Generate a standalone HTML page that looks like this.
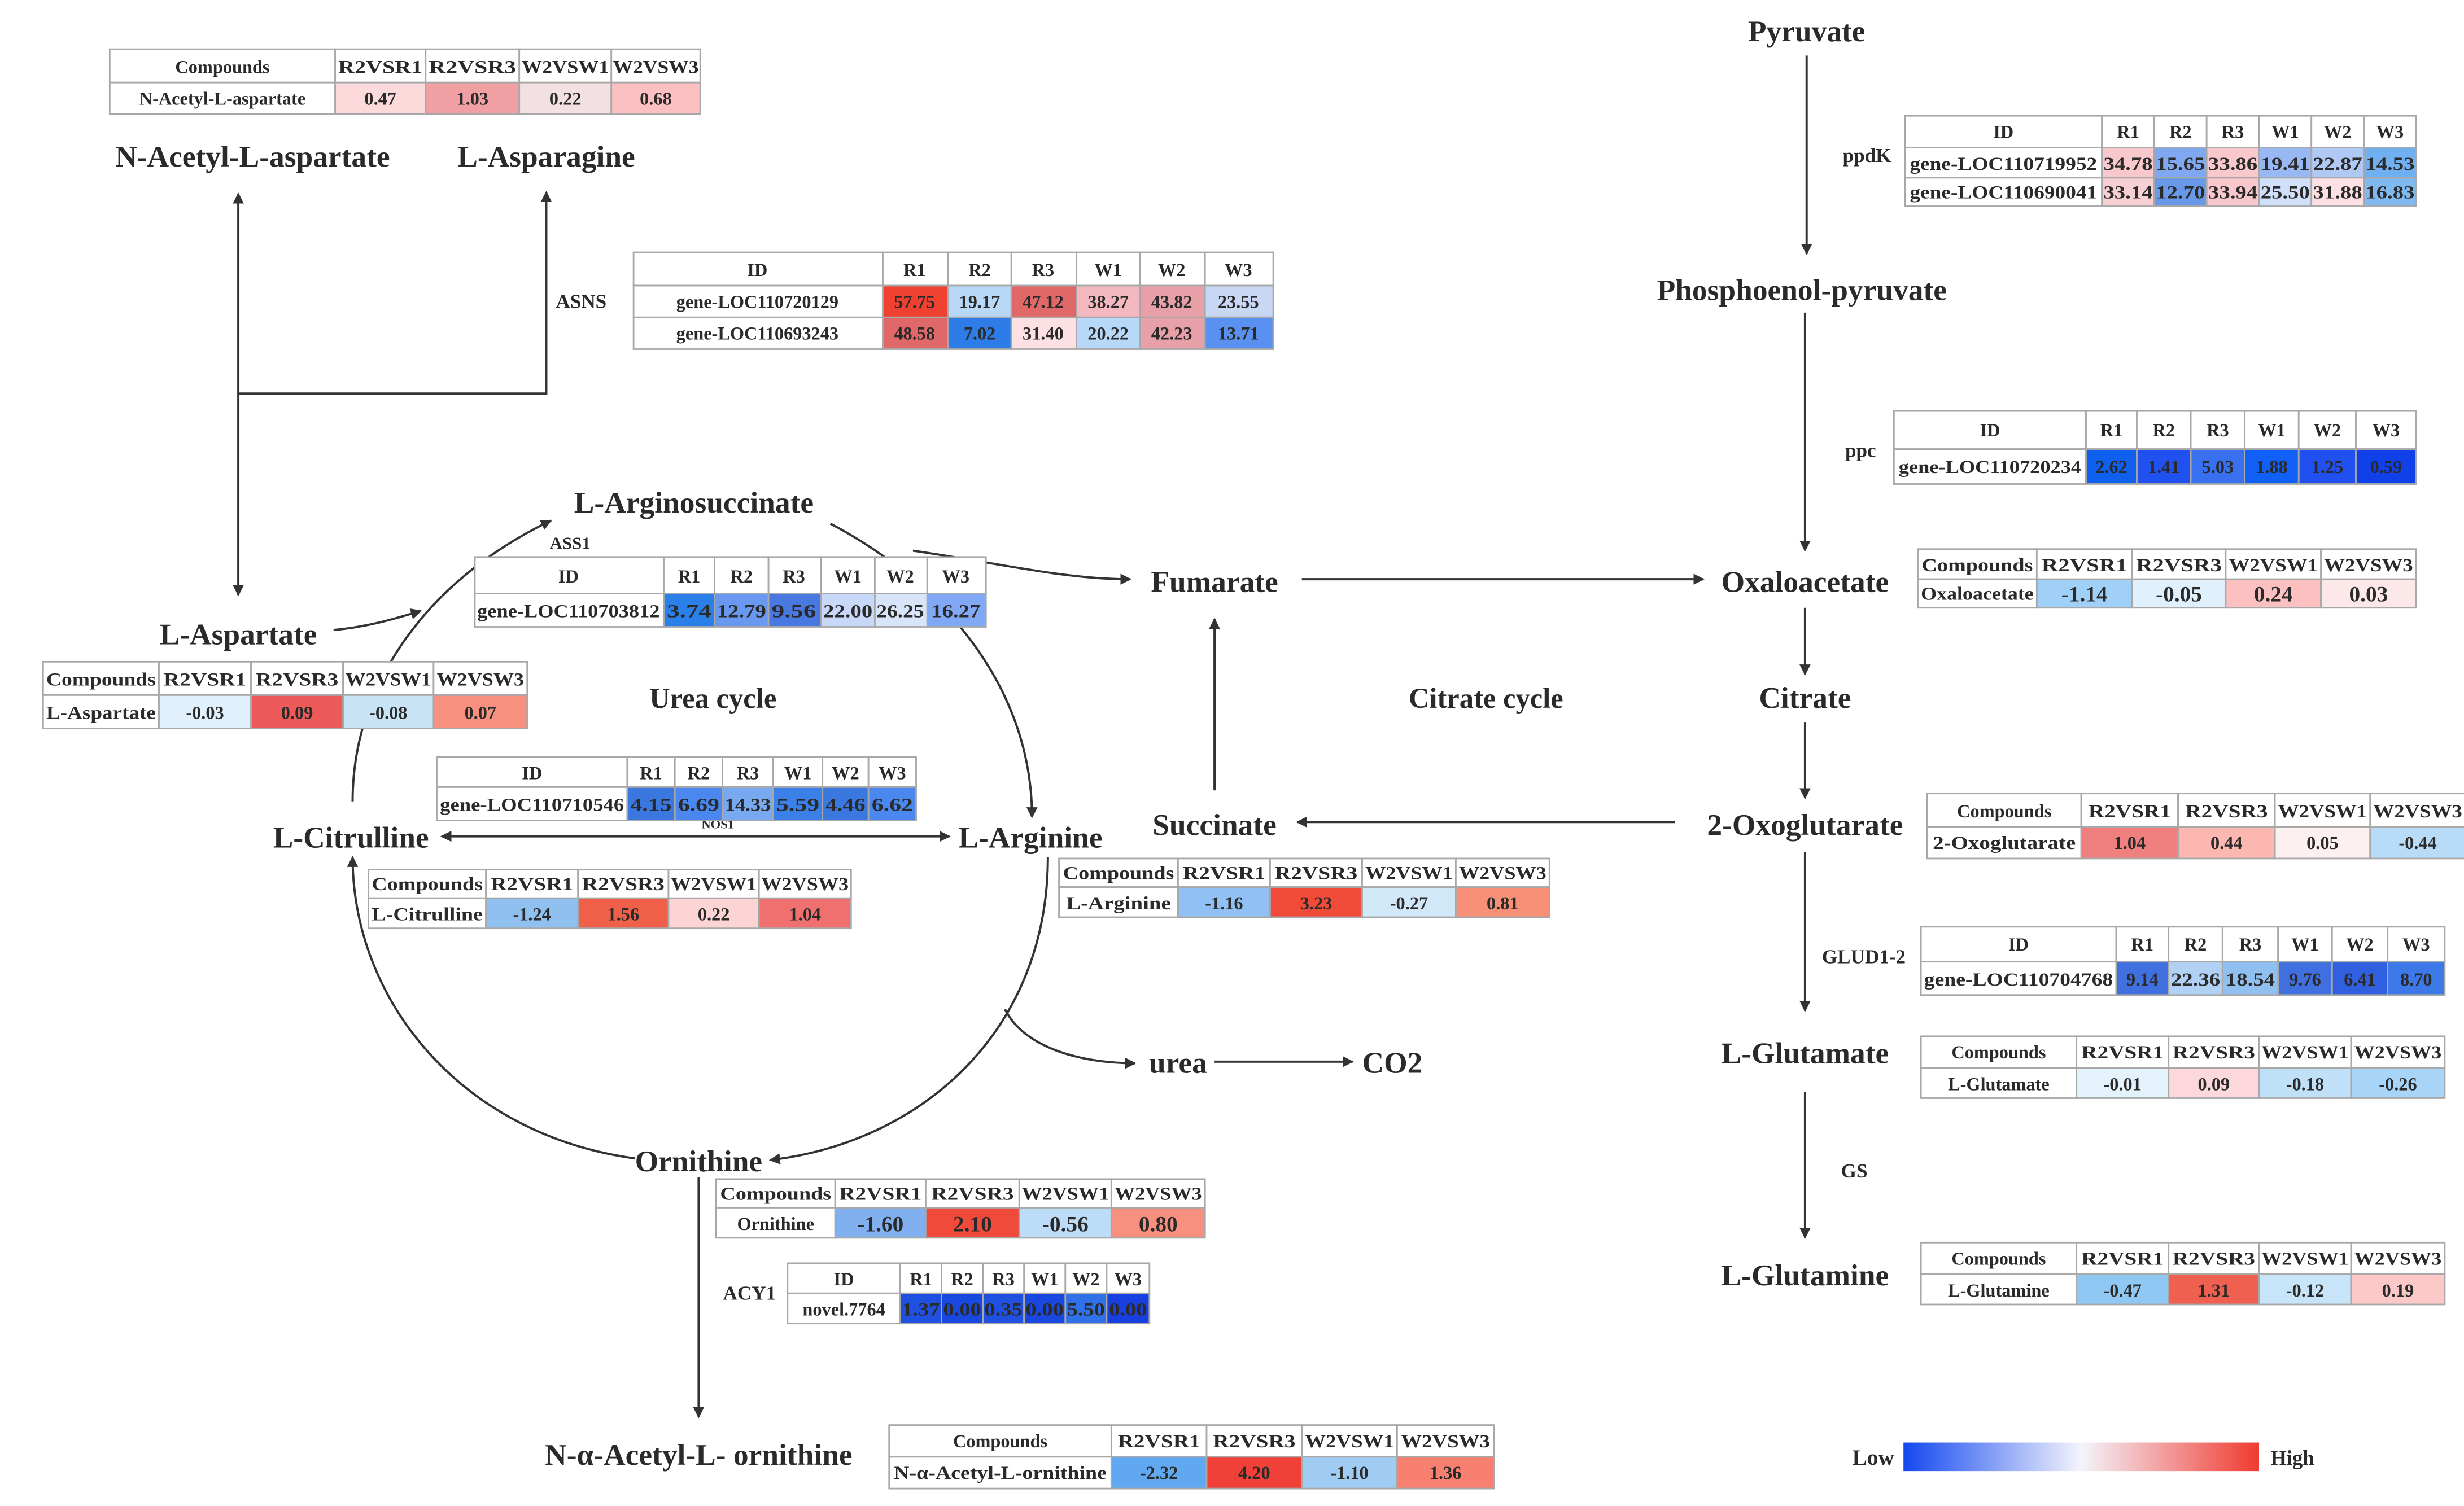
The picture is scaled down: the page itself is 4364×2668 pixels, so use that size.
<!DOCTYPE html>
<html><head><meta charset="utf-8"><style>
html,body{margin:0;padding:0;background:#fff}
svg{display:block}
text{font-family:"Liberation Serif",serif;fill:#2a2a2a}
.L{font-size:19px;font-weight:bold;text-anchor:middle}
.E{font-size:12.5px;font-weight:bold;text-anchor:middle}
.t{font-size:11.5px;font-weight:bold;text-anchor:middle}
.c{stroke:#a8a8a8;stroke-width:1}
.a{stroke:#333;stroke-width:1.4;fill:none}
</style></head><body>
<svg width="4364" height="2668" viewBox="0 0 1552 949" xmlns="http://www.w3.org/2000/svg">
<defs>
<marker id="m" viewBox="0 0 10 10" refX="9" refY="5" markerWidth="7" markerHeight="7" orient="auto-start-reverse" markerUnits="userSpaceOnUse"><path d="M0,0L10,5L0,10z" fill="#333"/></marker>
<linearGradient id="g" x1="0" x2="1"><stop offset="0" stop-color="#1448f0"/><stop offset="0.5" stop-color="#f4f4fc"/><stop offset="1" stop-color="#f03a30"/></linearGradient>
</defs>
<rect width="1552" height="949" fill="#fff"/>

<!-- arrows -->
<g class="a" marker-end="url(#m)">
<path d="M1138,35V160"/><path d="M1137,197V347"/><path d="M1137,383V425"/><path d="M1137,455V503"/><path d="M1137,537V637"/><path d="M1137,688V780"/>
<path d="M820,365H1073"/><path d="M765,498V390"/><path d="M1055,518H817"/><path d="M765,669H852"/><path d="M440,742V893"/>
<path d="M150,375V122" marker-start="url(#m)"/><path d="M150,248H344V121"/>
<path d="M210,397C232,395 248,390 265,385"/>
<path d="M222,505C222,430 270,365 347,328"/>
<path d="M523,330C590,365 650,430 650,515"/>
<path d="M575,347C630,355 670,365 712,365"/>
<path d="M278,527H598" marker-start="url(#m)"/>
<path d="M660,540C660,650 580,720 485,731"/>
<path d="M400,730C290,715 222,630 222,540"/>
<path d="M633,636C645,660 680,670 715,670"/>
</g>

<!-- labels -->
<text class="L" x="159" y="105">N-Acetyl-L-aspartate</text>
<text class="L" x="344" y="105">L-Asparagine</text>
<text class="L" x="437" y="323">L-Arginosuccinate</text>
<text class="L" x="150" y="406">L-Aspartate</text>
<text class="L" x="449" y="446" style="font-size:18px">Urea cycle</text>
<text class="L" x="765" y="373">Fumarate</text>
<text class="L" x="1137" y="373">Oxaloacetate</text>
<text class="L" x="1137" y="446">Citrate</text>
<text class="L" x="936" y="446" style="font-size:18px">Citrate cycle</text>
<text class="L" x="1137" y="526">2-Oxoglutarate</text>
<text class="L" x="765" y="526">Succinate</text>
<text class="L" x="221" y="534">L-Citrulline</text>
<text class="L" x="649" y="534">L-Arginine</text>
<text class="L" x="742" y="676">urea</text>
<text class="L" x="877" y="676">CO2</text>
<text class="L" x="440" y="738">Ornithine</text>
<text class="L" x="440" y="923">N-α-Acetyl-L- ornithine</text>
<text class="L" x="1137" y="670">L-Glutamate</text>
<text class="L" x="1137" y="810">L-Glutamine</text>
<text class="L" x="1138" y="26">Pyruvate</text>
<text class="L" x="1135" y="189">Phosphoenol-pyruvate</text>
<text class="E" x="1176" y="102">ppdK</text>
<text class="E" x="1172" y="288">ppc</text>
<text class="E" x="366" y="194">ASNS</text>
<text class="E" x="359" y="346" style="font-size:11px">ASS1</text>
<text class="E" x="1174" y="607">GLUD1-2</text>
<text class="E" x="1168" y="742">GS</text>
<text class="E" x="472" y="819">ACY1</text>
<text class="E" x="452" y="522" style="font-size:8px">NOS1</text>

<!-- T1 -->
<g>
<rect class="c" x="69" y="31" width="142" height="21" fill="#fff"/><rect class="c" x="211" y="31" width="57" height="21" fill="#fff"/><rect class="c" x="268" y="31" width="59" height="21" fill="#fff"/><rect class="c" x="327" y="31" width="58" height="21" fill="#fff"/><rect class="c" x="385" y="31" width="56" height="21" fill="#fff"/>
<rect class="c" x="69" y="52" width="142" height="20" fill="#fff"/><rect class="c" x="211" y="52" width="57" height="20" fill="#fcd9da"/><rect class="c" x="268" y="52" width="59" height="20" fill="#f0a0a3"/><rect class="c" x="327" y="52" width="58" height="20" fill="#f2e0e2"/><rect class="c" x="385" y="52" width="56" height="20" fill="#fcc0c2"/>
<text class="t" x="140" y="46">Compounds</text><text class="t" x="239.5" y="46" textLength="53" lengthAdjust="spacingAndGlyphs">R2VSR1</text><text class="t" x="297.5" y="46" textLength="55" lengthAdjust="spacingAndGlyphs">R2VSR3</text><text class="t" x="356" y="46" textLength="55" lengthAdjust="spacingAndGlyphs">W2VSW1</text><text class="t" x="413" y="46" textLength="54" lengthAdjust="spacingAndGlyphs">W2VSW3</text>
<text class="t" x="140" y="66">N-Acetyl-L-aspartate</text><text class="t" x="239.5" y="66">0.47</text><text class="t" x="297.5" y="66">1.03</text><text class="t" x="356" y="66">0.22</text><text class="t" x="413" y="66">0.68</text>
</g>

<!-- T2 ASNS -->
<g>
<rect class="c" x="399" y="159" width="157" height="21" fill="#fff"/><rect class="c" x="556" y="159" width="41" height="21" fill="#fff"/><rect class="c" x="597" y="159" width="40" height="21" fill="#fff"/><rect class="c" x="637" y="159" width="41" height="21" fill="#fff"/><rect class="c" x="678" y="159" width="40" height="21" fill="#fff"/><rect class="c" x="718" y="159" width="41" height="21" fill="#fff"/><rect class="c" x="759" y="159" width="43" height="21" fill="#fff"/>
<rect class="c" x="399" y="180" width="157" height="20" fill="#fff"/><rect class="c" x="556" y="180" width="41" height="20" fill="#f04030"/><rect class="c" x="597" y="180" width="40" height="20" fill="#b8d8f8"/><rect class="c" x="637" y="180" width="41" height="20" fill="#e06868"/><rect class="c" x="678" y="180" width="40" height="20" fill="#f4b8c0"/><rect class="c" x="718" y="180" width="41" height="20" fill="#e8a0a8"/><rect class="c" x="759" y="180" width="43" height="20" fill="#c8d8f4"/>
<rect class="c" x="399" y="200" width="157" height="20" fill="#fff"/><rect class="c" x="556" y="200" width="41" height="20" fill="#e06868"/><rect class="c" x="597" y="200" width="40" height="20" fill="#2d7ce8"/><rect class="c" x="637" y="200" width="41" height="20" fill="#fce0e4"/><rect class="c" x="678" y="200" width="40" height="20" fill="#b8d8f8"/><rect class="c" x="718" y="200" width="41" height="20" fill="#e8a0a8"/><rect class="c" x="759" y="200" width="43" height="20" fill="#5a90f0"/>
<text class="t" x="477" y="174">ID</text><text class="t" x="576" y="174">R1</text><text class="t" x="617" y="174">R2</text><text class="t" x="657" y="174">R3</text><text class="t" x="698" y="174">W1</text><text class="t" x="738" y="174">W2</text><text class="t" x="780" y="174">W3</text>
<text class="t" x="477" y="194">gene-LOC110720129</text><text class="t" x="576" y="194">57.75</text><text class="t" x="617" y="194">19.17</text><text class="t" x="657" y="194">47.12</text><text class="t" x="698" y="194">38.27</text><text class="t" x="738" y="194">43.82</text><text class="t" x="780" y="194">23.55</text>
<text class="t" x="477" y="214">gene-LOC110693243</text><text class="t" x="576" y="214">48.58</text><text class="t" x="617" y="214">7.02</text><text class="t" x="657" y="214">31.40</text><text class="t" x="698" y="214">20.22</text><text class="t" x="738" y="214">42.23</text><text class="t" x="780" y="214">13.71</text>
</g>

<!-- T3 ASS1 -->
<g>
<rect class="c" x="299" y="351" width="119" height="23" fill="#fff"/><rect class="c" x="418" y="351" width="32" height="23" fill="#fff"/><rect class="c" x="450" y="351" width="34" height="23" fill="#fff"/><rect class="c" x="484" y="351" width="33" height="23" fill="#fff"/><rect class="c" x="517" y="351" width="34" height="23" fill="#fff"/><rect class="c" x="551" y="351" width="33" height="23" fill="#fff"/><rect class="c" x="584" y="351" width="37" height="23" fill="#fff"/>
<rect class="c" x="299" y="374" width="119" height="21" fill="#fff"/><rect class="c" x="418" y="374" width="32" height="21" fill="#2a80e8"/><rect class="c" x="450" y="374" width="34" height="21" fill="#6898f0"/><rect class="c" x="484" y="374" width="33" height="21" fill="#4878e0"/><rect class="c" x="517" y="374" width="34" height="21" fill="#c8d8f8"/><rect class="c" x="551" y="374" width="33" height="21" fill="#d8e4f8"/><rect class="c" x="584" y="374" width="37" height="21" fill="#80a8f4"/>
<text class="t" x="358" y="367">ID</text><text class="t" x="434" y="367">R1</text><text class="t" x="467" y="367">R2</text><text class="t" x="500" y="367">R3</text><text class="t" x="534" y="367">W1</text><text class="t" x="567" y="367">W2</text><text class="t" x="602" y="367">W3</text>
<text class="t" x="358" y="389" textLength="115" lengthAdjust="spacingAndGlyphs">gene-LOC110703812</text><text class="t" x="434" y="389" textLength="28" lengthAdjust="spacingAndGlyphs">3.74</text><text class="t" x="467" y="389" textLength="31" lengthAdjust="spacingAndGlyphs">12.79</text><text class="t" x="500" y="389" textLength="28" lengthAdjust="spacingAndGlyphs">9.56</text><text class="t" x="534" y="389" textLength="31" lengthAdjust="spacingAndGlyphs">22.00</text><text class="t" x="567" y="389" textLength="30" lengthAdjust="spacingAndGlyphs">26.25</text><text class="t" x="602" y="389" textLength="31" lengthAdjust="spacingAndGlyphs">16.27</text>
</g>

<!-- T4 L-Aspartate -->
<g>
<rect class="c" x="27" y="417" width="73" height="21" fill="#fff"/><rect class="c" x="100" y="417" width="58" height="21" fill="#fff"/><rect class="c" x="158" y="417" width="58" height="21" fill="#fff"/><rect class="c" x="216" y="417" width="57" height="21" fill="#fff"/><rect class="c" x="273" y="417" width="59" height="21" fill="#fff"/>
<rect class="c" x="27" y="438" width="73" height="21" fill="#fff"/><rect class="c" x="100" y="438" width="58" height="21" fill="#e0f0fc"/><rect class="c" x="158" y="438" width="58" height="21" fill="#ee5a5a"/><rect class="c" x="216" y="438" width="57" height="21" fill="#c8e4f4"/><rect class="c" x="273" y="438" width="59" height="21" fill="#f89080"/>
<text class="t" x="63.5" y="432" textLength="69" lengthAdjust="spacingAndGlyphs">Compounds</text><text class="t" x="129" y="432" textLength="52" lengthAdjust="spacingAndGlyphs">R2VSR1</text><text class="t" x="187" y="432" textLength="52" lengthAdjust="spacingAndGlyphs">R2VSR3</text><text class="t" x="244.5" y="432" textLength="54" lengthAdjust="spacingAndGlyphs">W2VSW1</text><text class="t" x="302.5" y="432" textLength="55" lengthAdjust="spacingAndGlyphs">W2VSW3</text>
<text class="t" x="63.5" y="453" textLength="69" lengthAdjust="spacingAndGlyphs">L-Aspartate</text><text class="t" x="129" y="453">-0.03</text><text class="t" x="187" y="453">0.09</text><text class="t" x="244.5" y="453">-0.08</text><text class="t" x="302.5" y="453">0.07</text>
</g>

<!-- T5 NOS1 -->
<g>
<rect class="c" x="275" y="477" width="120" height="19" fill="#fff"/><rect class="c" x="395" y="477" width="30" height="19" fill="#fff"/><rect class="c" x="425" y="477" width="30" height="19" fill="#fff"/><rect class="c" x="455" y="477" width="32" height="19" fill="#fff"/><rect class="c" x="487" y="477" width="31" height="19" fill="#fff"/><rect class="c" x="518" y="477" width="29" height="19" fill="#fff"/><rect class="c" x="547" y="477" width="30" height="19" fill="#fff"/>
<rect class="c" x="275" y="496" width="120" height="21" fill="#fff"/><rect class="c" x="395" y="496" width="30" height="21" fill="#3a78e0"/><rect class="c" x="425" y="496" width="30" height="21" fill="#4a88f0"/><rect class="c" x="455" y="496" width="32" height="21" fill="#78a8f0"/><rect class="c" x="487" y="496" width="31" height="21" fill="#3a80e8"/><rect class="c" x="518" y="496" width="29" height="21" fill="#3a78e0"/><rect class="c" x="547" y="496" width="30" height="21" fill="#4a88f0"/>
<text class="t" x="335" y="491">ID</text><text class="t" x="410" y="491">R1</text><text class="t" x="440" y="491">R2</text><text class="t" x="471" y="491">R3</text><text class="t" x="502.5" y="491">W1</text><text class="t" x="532.5" y="491">W2</text><text class="t" x="562" y="491">W3</text>
<text class="t" x="335" y="511" textLength="116" lengthAdjust="spacingAndGlyphs">gene-LOC110710546</text><text class="t" x="410" y="511" textLength="26" lengthAdjust="spacingAndGlyphs">4.15</text><text class="t" x="440" y="511" textLength="26" lengthAdjust="spacingAndGlyphs">6.69</text><text class="t" x="471" y="511" textLength="29" lengthAdjust="spacingAndGlyphs">14.33</text><text class="t" x="502.5" y="511" textLength="27" lengthAdjust="spacingAndGlyphs">5.59</text><text class="t" x="532.5" y="511" textLength="25" lengthAdjust="spacingAndGlyphs">4.46</text><text class="t" x="562" y="511" textLength="26" lengthAdjust="spacingAndGlyphs">6.62</text>
</g>

<!-- T6 Citrulline -->
<g>
<rect class="c" x="232" y="548" width="74" height="18" fill="#fff"/><rect class="c" x="306" y="548" width="58" height="18" fill="#fff"/><rect class="c" x="364" y="548" width="57" height="18" fill="#fff"/><rect class="c" x="421" y="548" width="57" height="18" fill="#fff"/><rect class="c" x="478" y="548" width="58" height="18" fill="#fff"/>
<rect class="c" x="232" y="566" width="74" height="19" fill="#fff"/><rect class="c" x="306" y="566" width="58" height="19" fill="#90c0f0"/><rect class="c" x="364" y="566" width="57" height="19" fill="#f06048"/><rect class="c" x="421" y="566" width="57" height="19" fill="#fcd4d4"/><rect class="c" x="478" y="566" width="58" height="19" fill="#f07070"/>
<text class="t" x="269" y="561" textLength="70" lengthAdjust="spacingAndGlyphs">Compounds</text><text class="t" x="335" y="561" textLength="52" lengthAdjust="spacingAndGlyphs">R2VSR1</text><text class="t" x="392.5" y="561" textLength="52" lengthAdjust="spacingAndGlyphs">R2VSR3</text><text class="t" x="449.5" y="561" textLength="54" lengthAdjust="spacingAndGlyphs">W2VSW1</text><text class="t" x="507" y="561" textLength="55" lengthAdjust="spacingAndGlyphs">W2VSW3</text>
<text class="t" x="269" y="580" textLength="70" lengthAdjust="spacingAndGlyphs">L-Citrulline</text><text class="t" x="335" y="580">-1.24</text><text class="t" x="392.5" y="580">1.56</text><text class="t" x="449.5" y="580">0.22</text><text class="t" x="507" y="580">1.04</text>
</g>

<!-- T7 Arginine -->
<g>
<rect class="c" x="667" y="541" width="75" height="18" fill="#fff"/><rect class="c" x="742" y="541" width="58" height="18" fill="#fff"/><rect class="c" x="800" y="541" width="58" height="18" fill="#fff"/><rect class="c" x="858" y="541" width="59" height="18" fill="#fff"/><rect class="c" x="917" y="541" width="59" height="18" fill="#fff"/>
<rect class="c" x="667" y="559" width="75" height="19" fill="#fff"/><rect class="c" x="742" y="559" width="58" height="19" fill="#90c0f4"/><rect class="c" x="800" y="559" width="58" height="19" fill="#f04a38"/><rect class="c" x="858" y="559" width="59" height="19" fill="#d0e8f8"/><rect class="c" x="917" y="559" width="59" height="19" fill="#f89078"/>
<text class="t" x="704.5" y="554" textLength="70" lengthAdjust="spacingAndGlyphs">Compounds</text><text class="t" x="771" y="554" textLength="52" lengthAdjust="spacingAndGlyphs">R2VSR1</text><text class="t" x="829" y="554" textLength="52" lengthAdjust="spacingAndGlyphs">R2VSR3</text><text class="t" x="887.5" y="554" textLength="55" lengthAdjust="spacingAndGlyphs">W2VSW1</text><text class="t" x="946.5" y="554" textLength="55" lengthAdjust="spacingAndGlyphs">W2VSW3</text>
<text class="t" x="704.5" y="573" textLength="66" lengthAdjust="spacingAndGlyphs">L-Arginine</text><text class="t" x="771" y="573">-1.16</text><text class="t" x="829" y="573">3.23</text><text class="t" x="887.5" y="573">-0.27</text><text class="t" x="946.5" y="573">0.81</text>
</g>

<!-- T8 Ornithine -->
<g>
<rect class="c" x="451" y="743" width="75" height="18" fill="#fff"/><rect class="c" x="526" y="743" width="57" height="18" fill="#fff"/><rect class="c" x="583" y="743" width="59" height="18" fill="#fff"/><rect class="c" x="642" y="743" width="58" height="18" fill="#fff"/><rect class="c" x="700" y="743" width="59" height="18" fill="#fff"/>
<rect class="c" x="451" y="761" width="75" height="19" fill="#fff"/><rect class="c" x="526" y="761" width="57" height="19" fill="#80b0f0"/><rect class="c" x="583" y="761" width="59" height="19" fill="#f04a3a"/><rect class="c" x="642" y="761" width="58" height="19" fill="#bcdcf8"/><rect class="c" x="700" y="761" width="59" height="19" fill="#f89080"/>
<text class="t" x="488.5" y="756" textLength="70" lengthAdjust="spacingAndGlyphs">Compounds</text><text class="t" x="554.5" y="756" textLength="52" lengthAdjust="spacingAndGlyphs">R2VSR1</text><text class="t" x="612.5" y="756" textLength="52" lengthAdjust="spacingAndGlyphs">R2VSR3</text><text class="t" x="671" y="756" textLength="55" lengthAdjust="spacingAndGlyphs">W2VSW1</text><text class="t" x="729.5" y="756" textLength="55" lengthAdjust="spacingAndGlyphs">W2VSW3</text>
<text class="t" x="488.5" y="775">Ornithine</text><text class="t" x="554.5" y="776" style="font-size:14px">-1.60</text><text class="t" x="612.5" y="776" style="font-size:14px">2.10</text><text class="t" x="671" y="776" style="font-size:14px">-0.56</text><text class="t" x="729.5" y="776" style="font-size:14px">0.80</text>
</g>

<!-- T9 ACY1 -->
<g>
<rect class="c" x="496" y="796" width="71" height="19" fill="#fff"/><rect class="c" x="567" y="796" width="26" height="19" fill="#fff"/><rect class="c" x="593" y="796" width="26" height="19" fill="#fff"/><rect class="c" x="619" y="796" width="26" height="19" fill="#fff"/><rect class="c" x="645" y="796" width="26" height="19" fill="#fff"/><rect class="c" x="671" y="796" width="26" height="19" fill="#fff"/><rect class="c" x="697" y="796" width="27" height="19" fill="#fff"/>
<rect class="c" x="496" y="815" width="71" height="19" fill="#fff"/><rect class="c" x="567" y="815" width="26" height="19" fill="#2050e0"/><rect class="c" x="593" y="815" width="26" height="19" fill="#1848e0"/><rect class="c" x="619" y="815" width="26" height="19" fill="#2050e0"/><rect class="c" x="645" y="815" width="26" height="19" fill="#1848e0"/><rect class="c" x="671" y="815" width="26" height="19" fill="#3070e8"/><rect class="c" x="697" y="815" width="27" height="19" fill="#1840e0"/>
<text class="t" x="531.5" y="810">ID</text><text class="t" x="580" y="810">R1</text><text class="t" x="606" y="810">R2</text><text class="t" x="632" y="810">R3</text><text class="t" x="658" y="810">W1</text><text class="t" x="684" y="810">W2</text><text class="t" x="710.5" y="810">W3</text>
<text class="t" x="531.5" y="829">novel.7764</text><text class="t" x="580" y="829" textLength="24" lengthAdjust="spacingAndGlyphs">1.37</text><text class="t" x="606" y="829" textLength="24" lengthAdjust="spacingAndGlyphs">0.00</text><text class="t" x="632" y="829" textLength="24" lengthAdjust="spacingAndGlyphs">0.35</text><text class="t" x="658" y="829" textLength="24" lengthAdjust="spacingAndGlyphs">0.00</text><text class="t" x="684" y="829" textLength="24" lengthAdjust="spacingAndGlyphs">5.50</text><text class="t" x="710.5" y="829" textLength="24" lengthAdjust="spacingAndGlyphs">0.00</text>
</g>

<!-- T10 N-alpha -->
<g>
<rect class="c" x="560" y="898" width="140" height="20" fill="#fff"/><rect class="c" x="700" y="898" width="60" height="20" fill="#fff"/><rect class="c" x="760" y="898" width="60" height="20" fill="#fff"/><rect class="c" x="820" y="898" width="60" height="20" fill="#fff"/><rect class="c" x="880" y="898" width="61" height="20" fill="#fff"/>
<rect class="c" x="560" y="918" width="140" height="20" fill="#fff"/><rect class="c" x="700" y="918" width="60" height="20" fill="#60a8f0"/><rect class="c" x="760" y="918" width="60" height="20" fill="#f04038"/><rect class="c" x="820" y="918" width="60" height="20" fill="#a0ccf4"/><rect class="c" x="880" y="918" width="61" height="20" fill="#f88070"/>
<text class="t" x="630" y="912">Compounds</text><text class="t" x="730" y="912" textLength="52" lengthAdjust="spacingAndGlyphs">R2VSR1</text><text class="t" x="790" y="912" textLength="52" lengthAdjust="spacingAndGlyphs">R2VSR3</text><text class="t" x="850" y="912" textLength="56" lengthAdjust="spacingAndGlyphs">W2VSW1</text><text class="t" x="910.5" y="912" textLength="56" lengthAdjust="spacingAndGlyphs">W2VSW3</text>
<text class="t" x="630" y="932" textLength="134" lengthAdjust="spacingAndGlyphs">N-α-Acetyl-L-ornithine</text><text class="t" x="730" y="932">-2.32</text><text class="t" x="790" y="932">4.20</text><text class="t" x="850" y="932">-1.10</text><text class="t" x="910.5" y="932">1.36</text>
</g>

<!-- T11 ppdK -->
<g>
<rect class="c" x="1200" y="73" width="124" height="20" fill="#fff"/><rect class="c" x="1324" y="73" width="33" height="20" fill="#fff"/><rect class="c" x="1357" y="73" width="33" height="20" fill="#fff"/><rect class="c" x="1390" y="73" width="33" height="20" fill="#fff"/><rect class="c" x="1423" y="73" width="33" height="20" fill="#fff"/><rect class="c" x="1456" y="73" width="33" height="20" fill="#fff"/><rect class="c" x="1489" y="73" width="33" height="20" fill="#fff"/>
<rect class="c" x="1200" y="93" width="124" height="19" fill="#fff"/><rect class="c" x="1324" y="93" width="33" height="19" fill="#f8c8cc"/><rect class="c" x="1357" y="93" width="33" height="19" fill="#80a8f0"/><rect class="c" x="1390" y="93" width="33" height="19" fill="#f8c8cc"/><rect class="c" x="1423" y="93" width="33" height="19" fill="#98b8f4"/><rect class="c" x="1456" y="93" width="33" height="19" fill="#b0c8f4"/><rect class="c" x="1489" y="93" width="33" height="19" fill="#70b0f0"/>
<rect class="c" x="1200" y="112" width="124" height="18" fill="#fff"/><rect class="c" x="1324" y="112" width="33" height="18" fill="#f8d0d4"/><rect class="c" x="1357" y="112" width="33" height="18" fill="#6898e8"/><rect class="c" x="1390" y="112" width="33" height="18" fill="#f8c8cc"/><rect class="c" x="1423" y="112" width="33" height="18" fill="#d0e0f8"/><rect class="c" x="1456" y="112" width="33" height="18" fill="#fce0e4"/><rect class="c" x="1489" y="112" width="33" height="18" fill="#80b8f0"/>
<text class="t" x="1262" y="87">ID</text><text class="t" x="1340.5" y="87">R1</text><text class="t" x="1373.5" y="87">R2</text><text class="t" x="1406.5" y="87">R3</text><text class="t" x="1439.5" y="87">W1</text><text class="t" x="1472.5" y="87">W2</text><text class="t" x="1505.5" y="87">W3</text>
<text class="t" x="1262" y="107" textLength="118" lengthAdjust="spacingAndGlyphs">gene-LOC110719952</text><text class="t" x="1340.5" y="107" textLength="31" lengthAdjust="spacingAndGlyphs">34.78</text><text class="t" x="1373.5" y="107" textLength="31" lengthAdjust="spacingAndGlyphs">15.65</text><text class="t" x="1406.5" y="107" textLength="31" lengthAdjust="spacingAndGlyphs">33.86</text><text class="t" x="1439.5" y="107" textLength="31" lengthAdjust="spacingAndGlyphs">19.41</text><text class="t" x="1472.5" y="107" textLength="31" lengthAdjust="spacingAndGlyphs">22.87</text><text class="t" x="1505.5" y="107" textLength="31" lengthAdjust="spacingAndGlyphs">14.53</text>
<text class="t" x="1262" y="125" textLength="118" lengthAdjust="spacingAndGlyphs">gene-LOC110690041</text><text class="t" x="1340.5" y="125" textLength="31" lengthAdjust="spacingAndGlyphs">33.14</text><text class="t" x="1373.5" y="125" textLength="31" lengthAdjust="spacingAndGlyphs">12.70</text><text class="t" x="1406.5" y="125" textLength="31" lengthAdjust="spacingAndGlyphs">33.94</text><text class="t" x="1439.5" y="125" textLength="31" lengthAdjust="spacingAndGlyphs">25.50</text><text class="t" x="1472.5" y="125" textLength="31" lengthAdjust="spacingAndGlyphs">31.88</text><text class="t" x="1505.5" y="125" textLength="31" lengthAdjust="spacingAndGlyphs">16.83</text>
</g>

<!-- T12 ppc -->
<g>
<rect class="c" x="1193" y="259" width="121" height="24" fill="#fff"/><rect class="c" x="1314" y="259" width="32" height="24" fill="#fff"/><rect class="c" x="1346" y="259" width="34" height="24" fill="#fff"/><rect class="c" x="1380" y="259" width="34" height="24" fill="#fff"/><rect class="c" x="1414" y="259" width="34" height="24" fill="#fff"/><rect class="c" x="1448" y="259" width="36" height="24" fill="#fff"/><rect class="c" x="1484" y="259" width="38" height="24" fill="#fff"/>
<rect class="c" x="1193" y="283" width="121" height="22" fill="#fff"/><rect class="c" x="1314" y="283" width="32" height="22" fill="#1060f0"/><rect class="c" x="1346" y="283" width="34" height="22" fill="#2050f0"/><rect class="c" x="1380" y="283" width="34" height="22" fill="#3870f0"/><rect class="c" x="1414" y="283" width="34" height="22" fill="#1060f8"/><rect class="c" x="1448" y="283" width="36" height="22" fill="#2050f0"/><rect class="c" x="1484" y="283" width="38" height="22" fill="#1040e8"/>
<text class="t" x="1253.5" y="275">ID</text><text class="t" x="1330" y="275">R1</text><text class="t" x="1363" y="275">R2</text><text class="t" x="1397" y="275">R3</text><text class="t" x="1431" y="275">W1</text><text class="t" x="1466" y="275">W2</text><text class="t" x="1503" y="275">W3</text>
<text class="t" x="1253.5" y="298" textLength="115" lengthAdjust="spacingAndGlyphs">gene-LOC110720234</text><text class="t" x="1330" y="298">2.62</text><text class="t" x="1363" y="298">1.41</text><text class="t" x="1397" y="298">5.03</text><text class="t" x="1431" y="298">1.88</text><text class="t" x="1466" y="298">1.25</text><text class="t" x="1503" y="298">0.59</text>
</g>

<!-- T13 Oxaloacetate -->
<g>
<rect class="c" x="1208" y="346" width="75" height="19" fill="#fff"/><rect class="c" x="1283" y="346" width="60" height="19" fill="#fff"/><rect class="c" x="1343" y="346" width="59" height="19" fill="#fff"/><rect class="c" x="1402" y="346" width="60" height="19" fill="#fff"/><rect class="c" x="1462" y="346" width="60" height="19" fill="#fff"/>
<rect class="c" x="1208" y="365" width="75" height="18" fill="#fff"/><rect class="c" x="1283" y="365" width="60" height="18" fill="#a0d0f8"/><rect class="c" x="1343" y="365" width="59" height="18" fill="#e0f0fc"/><rect class="c" x="1402" y="365" width="60" height="18" fill="#fcc0c0"/><rect class="c" x="1462" y="365" width="60" height="18" fill="#fce8e8"/>
<text class="t" x="1245.5" y="360" textLength="70" lengthAdjust="spacingAndGlyphs">Compounds</text><text class="t" x="1313" y="360" textLength="54" lengthAdjust="spacingAndGlyphs">R2VSR1</text><text class="t" x="1372.5" y="360" textLength="54" lengthAdjust="spacingAndGlyphs">R2VSR3</text><text class="t" x="1432" y="360" textLength="56" lengthAdjust="spacingAndGlyphs">W2VSW1</text><text class="t" x="1492" y="360" textLength="56" lengthAdjust="spacingAndGlyphs">W2VSW3</text>
<text class="t" x="1245.5" y="378" textLength="71" lengthAdjust="spacingAndGlyphs">Oxaloacetate</text><text class="t" x="1313" y="379" style="font-size:14px">-1.14</text><text class="t" x="1372.5" y="379" style="font-size:14px">-0.05</text><text class="t" x="1432" y="379" style="font-size:14px">0.24</text><text class="t" x="1492" y="379" style="font-size:14px">0.03</text>
</g>

<!-- T14 2-Oxoglutarate -->
<g>
<rect class="c" x="1214" y="500" width="97" height="21" fill="#fff"/><rect class="c" x="1311" y="500" width="61" height="21" fill="#fff"/><rect class="c" x="1372" y="500" width="61" height="21" fill="#fff"/><rect class="c" x="1433" y="500" width="60" height="21" fill="#fff"/><rect class="c" x="1493" y="500" width="62" height="21" fill="#fff"/>
<rect class="c" x="1214" y="521" width="97" height="20" fill="#fff"/><rect class="c" x="1311" y="521" width="61" height="20" fill="#f08080"/><rect class="c" x="1372" y="521" width="61" height="20" fill="#fcb8b0"/><rect class="c" x="1433" y="521" width="60" height="20" fill="#fcf0f0"/><rect class="c" x="1493" y="521" width="62" height="20" fill="#b8dcf8"/>
<text class="t" x="1262.5" y="515">Compounds</text><text class="t" x="1341.5" y="515" textLength="52" lengthAdjust="spacingAndGlyphs">R2VSR1</text><text class="t" x="1402.5" y="515" textLength="52" lengthAdjust="spacingAndGlyphs">R2VSR3</text><text class="t" x="1463" y="515" textLength="56" lengthAdjust="spacingAndGlyphs">W2VSW1</text><text class="t" x="1523" y="515" textLength="56" lengthAdjust="spacingAndGlyphs">W2VSW3</text>
<text class="t" x="1262.5" y="535" textLength="90" lengthAdjust="spacingAndGlyphs">2-Oxoglutarate</text><text class="t" x="1341.5" y="535">1.04</text><text class="t" x="1402.5" y="535">0.44</text><text class="t" x="1463" y="535">0.05</text><text class="t" x="1523" y="535">-0.44</text>
</g>

<!-- T15 GLUD -->
<g>
<rect class="c" x="1210" y="584" width="123" height="22" fill="#fff"/><rect class="c" x="1333" y="584" width="33" height="22" fill="#fff"/><rect class="c" x="1366" y="584" width="34" height="22" fill="#fff"/><rect class="c" x="1400" y="584" width="35" height="22" fill="#fff"/><rect class="c" x="1435" y="584" width="34" height="22" fill="#fff"/><rect class="c" x="1469" y="584" width="35" height="22" fill="#fff"/><rect class="c" x="1504" y="584" width="36" height="22" fill="#fff"/>
<rect class="c" x="1210" y="606" width="123" height="21" fill="#fff"/><rect class="c" x="1333" y="606" width="33" height="21" fill="#4070e0"/><rect class="c" x="1366" y="606" width="34" height="21" fill="#b0d0f4"/><rect class="c" x="1400" y="606" width="35" height="21" fill="#90c0f0"/><rect class="c" x="1435" y="606" width="34" height="21" fill="#4070e0"/><rect class="c" x="1469" y="606" width="35" height="21" fill="#3060e0"/><rect class="c" x="1504" y="606" width="36" height="21" fill="#3c78e8"/>
<text class="t" x="1271.5" y="599">ID</text><text class="t" x="1349.5" y="599">R1</text><text class="t" x="1383" y="599">R2</text><text class="t" x="1417.5" y="599">R3</text><text class="t" x="1452" y="599">W1</text><text class="t" x="1486.5" y="599">W2</text><text class="t" x="1522" y="599">W3</text>
<text class="t" x="1271.5" y="621" textLength="119" lengthAdjust="spacingAndGlyphs">gene-LOC110704768</text><text class="t" x="1349.5" y="621">9.14</text><text class="t" x="1383" y="621" textLength="31" lengthAdjust="spacingAndGlyphs">22.36</text><text class="t" x="1417.5" y="621" textLength="31" lengthAdjust="spacingAndGlyphs">18.54</text><text class="t" x="1452" y="621">9.76</text><text class="t" x="1486.5" y="621">6.41</text><text class="t" x="1522" y="621">8.70</text>
</g>

<!-- T16 Glutamate -->
<g>
<rect class="c" x="1210" y="653" width="98" height="20" fill="#fff"/><rect class="c" x="1308" y="653" width="58" height="20" fill="#fff"/><rect class="c" x="1366" y="653" width="57" height="20" fill="#fff"/><rect class="c" x="1423" y="653" width="58" height="20" fill="#fff"/><rect class="c" x="1481" y="653" width="59" height="20" fill="#fff"/>
<rect class="c" x="1210" y="673" width="98" height="19" fill="#fff"/><rect class="c" x="1308" y="673" width="58" height="19" fill="#e4f2fc"/><rect class="c" x="1366" y="673" width="57" height="19" fill="#fcd8dc"/><rect class="c" x="1423" y="673" width="58" height="19" fill="#c0e0f8"/><rect class="c" x="1481" y="673" width="59" height="19" fill="#a8d4f8"/>
<text class="t" x="1259" y="667">Compounds</text><text class="t" x="1337" y="667" textLength="52" lengthAdjust="spacingAndGlyphs">R2VSR1</text><text class="t" x="1394.5" y="667" textLength="52" lengthAdjust="spacingAndGlyphs">R2VSR3</text><text class="t" x="1452" y="667" textLength="55" lengthAdjust="spacingAndGlyphs">W2VSW1</text><text class="t" x="1510.5" y="667" textLength="55" lengthAdjust="spacingAndGlyphs">W2VSW3</text>
<text class="t" x="1259" y="687">L-Glutamate</text><text class="t" x="1337" y="687">-0.01</text><text class="t" x="1394.5" y="687">0.09</text><text class="t" x="1452" y="687">-0.18</text><text class="t" x="1510.5" y="687">-0.26</text>
</g>

<!-- T17 Glutamine -->
<g>
<rect class="c" x="1210" y="783" width="98" height="20" fill="#fff"/><rect class="c" x="1308" y="783" width="58" height="20" fill="#fff"/><rect class="c" x="1366" y="783" width="57" height="20" fill="#fff"/><rect class="c" x="1423" y="783" width="58" height="20" fill="#fff"/><rect class="c" x="1481" y="783" width="59" height="20" fill="#fff"/>
<rect class="c" x="1210" y="803" width="98" height="19" fill="#fff"/><rect class="c" x="1308" y="803" width="58" height="19" fill="#90c8f4"/><rect class="c" x="1366" y="803" width="57" height="19" fill="#f06050"/><rect class="c" x="1423" y="803" width="58" height="19" fill="#c8e4f8"/><rect class="c" x="1481" y="803" width="59" height="19" fill="#fcc8c8"/>
<text class="t" x="1259" y="797">Compounds</text><text class="t" x="1337" y="797" textLength="52" lengthAdjust="spacingAndGlyphs">R2VSR1</text><text class="t" x="1394.5" y="797" textLength="52" lengthAdjust="spacingAndGlyphs">R2VSR3</text><text class="t" x="1452" y="797" textLength="55" lengthAdjust="spacingAndGlyphs">W2VSW1</text><text class="t" x="1510.5" y="797" textLength="55" lengthAdjust="spacingAndGlyphs">W2VSW3</text>
<text class="t" x="1259" y="817">L-Glutamine</text><text class="t" x="1337" y="817">-0.47</text><text class="t" x="1394.5" y="817">1.31</text><text class="t" x="1452" y="817">-0.12</text><text class="t" x="1510.5" y="817">0.19</text>
</g>

<!-- legend -->
<rect x="1199" y="909" width="224" height="18" fill="url(#g)"/>
<text class="E" x="1180" y="923" style="font-size:14px">Low</text>
<text class="E" x="1444" y="923" style="font-size:13px">High</text>
</svg>
</body></html>
